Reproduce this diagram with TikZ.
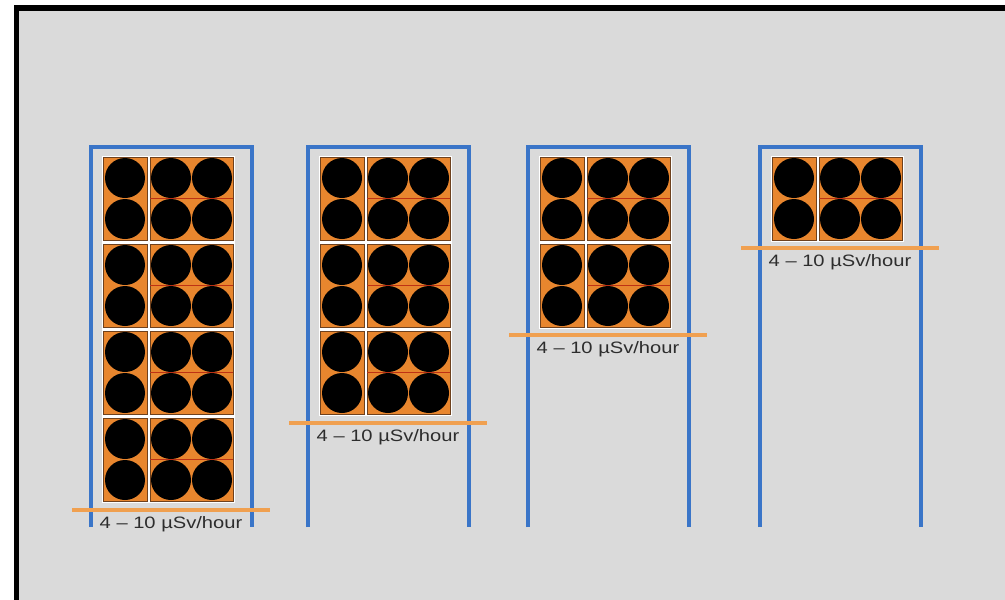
\documentclass[tikz,border=0pt]{standalone}
\usepackage{fontspec}
\setmainfont{Liberation Sans}
\definecolor{bg}{RGB}{218,218,218}
\definecolor{frameblue}{RGB}{58,117,200}
\definecolor{panelorange}{RGB}{232,134,46}
\definecolor{lineorange}{RGB}{240,160,80}
\definecolor{paneledge}{RGB}{110,65,30}
\definecolor{midred}{RGB}{190,50,20}
\definecolor{txtgray}{RGB}{45,45,45}
\begin{document}
\begin{tikzpicture}[x=1pt,y=-1pt,
  bluefr/.style={draw=frameblue,line width=4.5pt},
  level/.style={draw=lineorange,line width=4pt},
  panel/.style={fill=panelorange,draw=paneledge,line width=0.6pt},
  ball/.style={fill=black},
  gap/.style={fill=white},
  dose/.style={font=\fontsize{16.5}{18}\selectfont,text=txtgray,inner sep=0pt}
]
\useasboundingbox (0,0) rectangle (1005,600);
\fill[white] (0,0) rectangle (1005,600);
\fill[bg] (16.5,8) rectangle (1005,600);
\draw[black,line width=5.5pt] (16.5,600) -- (16.5,8) -- (1005,8);
\foreach \bx/\nr/\ly/\nm in {91/4/510/a, 308/3/423/b, 528/2/335/c, 760/1/248/d}{
  % white gaps behind the panel stack
  \fill[gap] (\bx+10.5,155.5) rectangle (\bx+143.5,{157+87*(\nr-1)+84.5});
  \foreach \r in {1,...,\nr}{
    \pgfmathsetmacro\t{157+87*(\r-1)}
    \draw[panel] (\bx+12,\t) rectangle (\bx+56,\t+83);
    \draw[panel] (\bx+59,\t) rectangle (\bx+142,\t+83);
    \draw[midred,line width=0.9pt] (\bx+59,\t+41.5) -- (\bx+142,\t+41.5);
    \foreach \cy in {21,62}{
      \fill[ball] (\bx+34,\t+\cy) circle (20);
      \fill[ball] (\bx+80,\t+\cy) circle (20);
      \fill[ball] (\bx+121,\t+\cy) circle (20);
    }
  }
  \draw[bluefr] (\bx,527) -- (\bx,147) -- (\bx+161,147) -- (\bx+161,527);
  \draw[level] (\bx-19,\ly) -- (\bx+179,\ly);
  \node[dose] (lab\nm) at (\bx+80,\ly+14) {\scalebox{1.22}[1]{4 – 10 µSv/hour}};
}
\end{tikzpicture}
\end{document}
